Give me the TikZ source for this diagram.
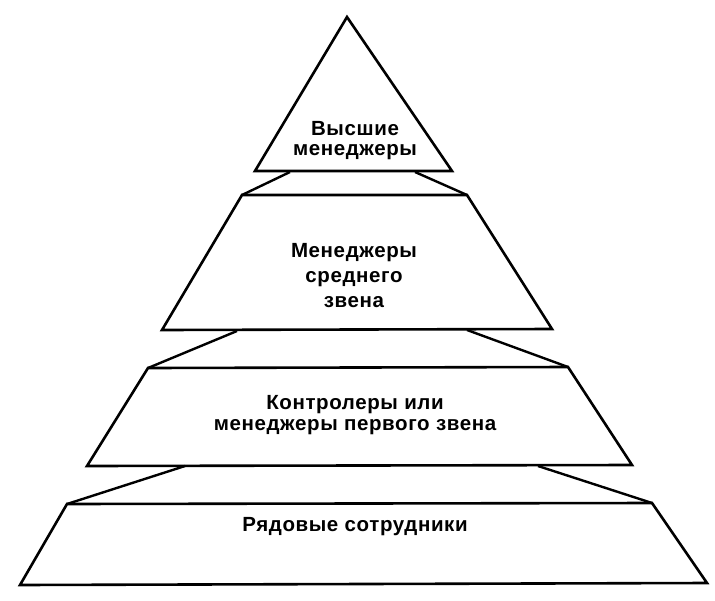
\documentclass[tikz,border=0pt]{standalone}
\usepackage{fontspec}
\setmainfont{Liberation Sans}
\newfontfamily\lblfont[LetterSpace=3]{Liberation Sans}
\begin{document}
\begin{tikzpicture}[x=1pt,y=-1pt,
  tier/.style={line width=2.6pt,line join=miter},
  link/.style={line width=2.4pt},
  lbl/.style={inner sep=0pt,align=center,font=\lblfont\bfseries\fontsize{20.5}{20}\selectfont}]
\useasboundingbox (0,0) rectangle (715,600);
% top triangle
\coordinate (apex) at (347,17);
\coordinate (t1l) at (255,171);
\coordinate (t1r) at (452,171);
% tier 2
\coordinate (t2a) at (242,195);
\coordinate (t2b) at (467,195);
\coordinate (t2c) at (552,329);
\coordinate (t2d) at (162,330);
% tier 3
\coordinate (t3a) at (148,368);
\coordinate (t3b) at (568,367);
\coordinate (t3c) at (632,465);
\coordinate (t3d) at (87,466);
% tier 4
\coordinate (t4a) at (67,504);
\coordinate (t4b) at (652,503);
\coordinate (t4c) at (707,583);
\coordinate (t4d) at (20,585);
% link start points on the bases
\coordinate (l1a) at (290,172);
\coordinate (l1b) at (415,172);
\coordinate (l2a) at (237,331);
\coordinate (l2b) at (467,330);
\coordinate (l3a) at (185,466);
\coordinate (l3b) at (538,466);

\draw[tier] (apex) -- (t1r) -- (t1l) -- cycle;
\draw[tier] (t2a) -- (t2b) -- (t2c) -- (t2d) -- cycle;
\draw[tier] (t3a) -- (t3b) -- (t3c) -- (t3d) -- cycle;
\draw[tier] (t4a) -- (t4b) -- (t4c) -- (t4d) -- cycle;

\draw[link] (l1a) -- (t2a);
\draw[link] (l1b) -- (t2b);
\draw[link] (l2a) -- (t3a);
\draw[link] (l2b) -- (t3b);
\draw[link] (l3a) -- (t4a);
\draw[link] (l3b) -- (t4b);

\node[lbl] (n1) at (355,141) {Высшие\\менеджеры};
\node[lbl,font=\lblfont\bfseries\fontsize{20.5}{25}\selectfont] (n2) at (354,276) {Менеджеры\\среднего\\звена};
\node[lbl,font=\lblfont\bfseries\fontsize{20.5}{21}\selectfont] (n3) at (355,415) {Контролеры или\\менеджеры первого звена};
\node[lbl] (n4) at (355,527) {Рядовые сотрудники};
\end{tikzpicture}
\end{document}
